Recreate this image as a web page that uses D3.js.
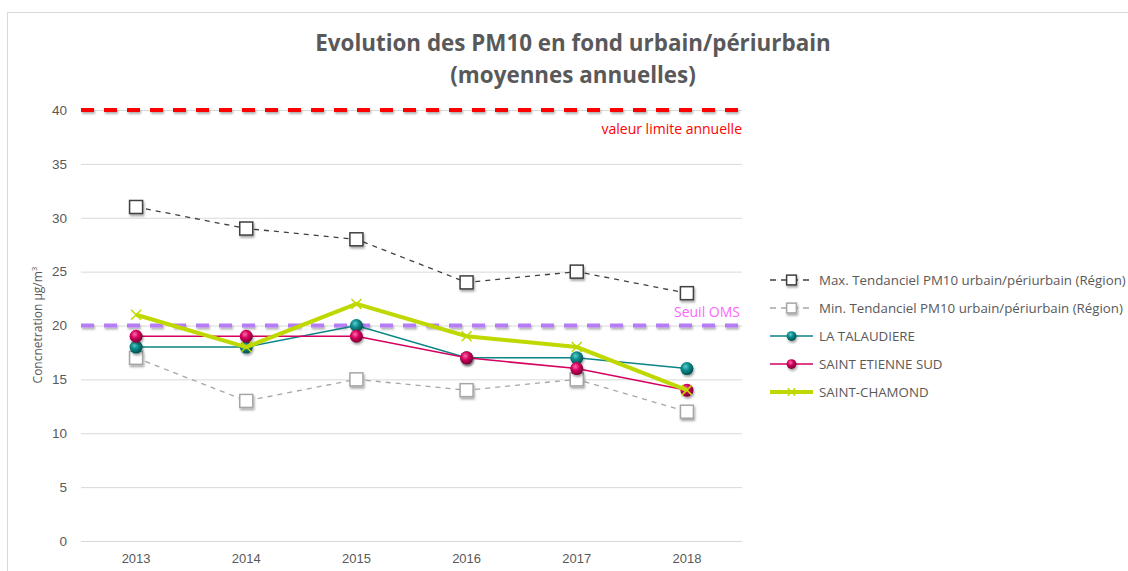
<!DOCTYPE html>
<html>
<head>
<meta charset="utf-8">
<script src="https://d3js.org/d3.v7.min.js"></script>
<style>
body { margin: 0; background: #fff; font-family: 'Open Sans', 'Liberation Sans', sans-serif; }
.grid line { stroke: #d9d9d9; stroke-width: 1; }
.tick text { fill: #595959; font-size: 13.5px; }
.legend text { fill: #595959; font-size: 13.3px; }
</style>
</head>
<body>
<div id="chart"></div>
<script>

var years = ["2013", "2014", "2015", "2016", "2017", "2018"];
var yTicks = [0, 5, 10, 15, 20, 25, 30, 35, 40];

var maxRegion = [31, 29, 28, 24, 25, 23];
var minRegion = [17, 13, 15, 14, 15, 12];
var laTalaudiere = [18, 18, 20, 17, 17, 16];
var saintEtienneSud = [19, 19, 19, 17, 16, 14];
var saintChamond = [21, 18, 22, 19, 18, 14];

var limitValue = 40;
var omsValue = 20;

var series = [
	{ name: "Max. Tendanciel PM10 urbain/périurbain (Région)", values: maxRegion, color: "#404040", width: 1.3, dash: "5,5", marker: "square" },
	{ name: "Min. Tendanciel PM10 urbain/périurbain (Région)", values: minRegion, color: "#a6a6a6", width: 1.3, dash: "5,5", marker: "square" },
	{ name: "LA TALAUDIERE", values: laTalaudiere, color: "#0a8585", width: 1.5, dash: null, marker: "circle", grad: "gTeal" },
	{ name: "SAINT ETIENNE SUD", values: saintEtienneSud, color: "#d6005f", width: 1.5, dash: null, marker: "circle", grad: "gPink" },
	{ name: "SAINT-CHAMOND", values: saintChamond, color: "#bfd800", width: 4, dash: null, marker: "cross" }
];

var W = 1128, H = 571;
var svg = d3.select("#chart").append("svg").attr("width", W).attr("height", H);

var defs = svg.append("defs");
var shadow = defs.append("filter").attr("id", "shadow").attr("x", "-50%").attr("y", "-50%").attr("width", "200%").attr("height", "200%");
shadow.append("feDropShadow").attr("dx", 1).attr("dy", 2).attr("stdDeviation", 1.2).attr("flood-color", "#000").attr("flood-opacity", 0.35);
// horizontal lines have a zero-height box, so they need a filter in user space
var lineShadow = defs.append("filter").attr("id", "lineShadow").attr("filterUnits", "userSpaceOnUse")
	.attr("x", 0).attr("y", 0).attr("width", W).attr("height", H);
lineShadow.append("feDropShadow").attr("dx", 1).attr("dy", 2).attr("stdDeviation", 1.2).attr("flood-color", "#000").attr("flood-opacity", 0.3);

function sphere(id, light, mid, dark) {
	var g = defs.append("radialGradient").attr("id", id).attr("cx", "40%").attr("cy", "35%").attr("r", "65%");
	g.append("stop").attr("offset", "0%").attr("stop-color", light);
	g.append("stop").attr("offset", "45%").attr("stop-color", mid);
	g.append("stop").attr("offset", "100%").attr("stop-color", dark);
}
sphere("gTeal", "#5fd0cf", "#0a8a8a", "#03504f");
sphere("gPink", "#ff6fa8", "#d6005f", "#7a0034");

// chart frame
svg.append("rect").attr("x", 7.5).attr("y", 12.5).attr("width", 1140).attr("height", 600)
	.attr("fill", "none").attr("stroke", "#d9d9d9");

var plotLeft = 81, plotRight = 742, plotTop = 110, plotBottom = 541;

var x = d3.scaleBand().domain(years).range([plotLeft, plotRight]);
var y = d3.scaleLinear().domain([0, 40]).range([plotBottom, plotTop]);

// grid
var yAxis = d3.axisLeft(y).tickValues(yTicks).tickSize(-(plotRight - plotLeft)).tickPadding(14);
svg.append("g").attr("class", "grid").attr("transform", "translate(" + plotLeft + ",0)").call(yAxis)
	.call(function (g) { g.select(".domain").remove(); });

var xAxis = d3.axisBottom(x).tickSize(0).tickPadding(13);
svg.append("g").attr("transform", "translate(0," + plotBottom + ")").call(xAxis)
	.call(function (g) { g.select(".domain").remove(); })
	.selectAll("text").style("font-family", "'Liberation Sans Narrow', 'Liberation Sans', sans-serif").style("font-size", "13px");

// title
var title = svg.append("text").attr("text-anchor", "middle").attr("fill", "#595959")
	.style("font-size", "22.4px").style("font-weight", "bold");
title.append("tspan").attr("x", 573).attr("y", 51).text("Evolution des PM10 en fond urbain/périurbain");
title.append("tspan").attr("x", 573).attr("y", 83).text("(moyennes annuelles)");

// y axis label
svg.append("text").attr("transform", "translate(42,325) rotate(-90)").attr("text-anchor", "middle")
	.attr("fill", "#595959").style("font-size", "12px")
	.text("Concnetration µg/m").append("tspan").attr("dy", -5).style("font-size", "8px").text("3");

// reference lines
function refLine(v, color) {
	svg.append("line").attr("x1", plotLeft).attr("x2", plotRight).attr("y1", y(v)).attr("y2", y(v))
		.attr("stroke", color).attr("stroke-width", 4).attr("stroke-dasharray", "13,10")
		.attr("filter", "url(#lineShadow)");
}
refLine(limitValue, "#ff0000");
refLine(omsValue, "#b57cf5");

svg.append("text").attr("x", plotRight).attr("y", y(limitValue) + 24).attr("text-anchor", "end")
	.attr("fill", "#ff0000").style("font-size", "14px").text("valeur limite annuelle");
svg.append("text").attr("x", plotRight - 2).attr("y", y(omsValue) - 9).attr("text-anchor", "end")
	.attr("fill", "#ff66ff").style("font-size", "14px").text("Seuil OMS");

var cx = function (d, i) { return x(years[i]) + x.bandwidth() / 2; };
var line = d3.line().x(function (d, i) { return cx(d, i); }).y(function (d) { return y(d); });

function drawMarker(g, s, px, py, k) {
	k = k || 1;
	if (s.marker == "square") {
		var h = 6.5 * k;
		g.append("rect").attr("x", px - h).attr("y", py - h).attr("width", 2 * h).attr("height", 2 * h)
			.attr("fill", "#fff").attr("stroke", s.color).attr("stroke-width", 1.5).attr("filter", "url(#shadow)");
	} else if (s.marker == "circle") {
		g.append("circle").attr("cx", px).attr("cy", py).attr("r", 6.5 * k)
			.attr("fill", "url(#" + s.grad + ")").attr("filter", "url(#shadow)");
	} else {
		var c = 5 * k;
		g.append("path").attr("d", "M" + (px - c) + "," + (py - c) + "L" + (px + c) + "," + (py + c) +
			"M" + (px - c) + "," + (py + c) + "L" + (px + c) + "," + (py - c))
			.attr("stroke", s.color).attr("stroke-width", 1.5);
	}
}

series.forEach(function (s) {
	var g = svg.append("g");
	g.append("path").datum(s.values).attr("d", line).attr("fill", "none")
		.attr("stroke", s.color).attr("stroke-width", s.width)
		.attr("stroke-dasharray", s.dash);
	s.values.forEach(function (v, i) { drawMarker(g, s, cx(v, i), y(v)); });
});

// legend
var legend = svg.append("g").attr("class", "legend");
series.forEach(function (s, i) {
	var ly = 280 + i * 28;
	var g = legend.append("g");
	g.append("line").attr("x1", 770).attr("x2", 813).attr("y1", ly).attr("y2", ly)
		.attr("stroke", s.color).attr("stroke-width", s.width).attr("stroke-dasharray", s.dash ? "6,5" : null);
	drawMarker(g, s, 791.5, ly, 0.75);
	g.append("text").attr("x", 819).attr("y", ly + 4.5).text(s.name);
});

</script>
</body>
</html>
